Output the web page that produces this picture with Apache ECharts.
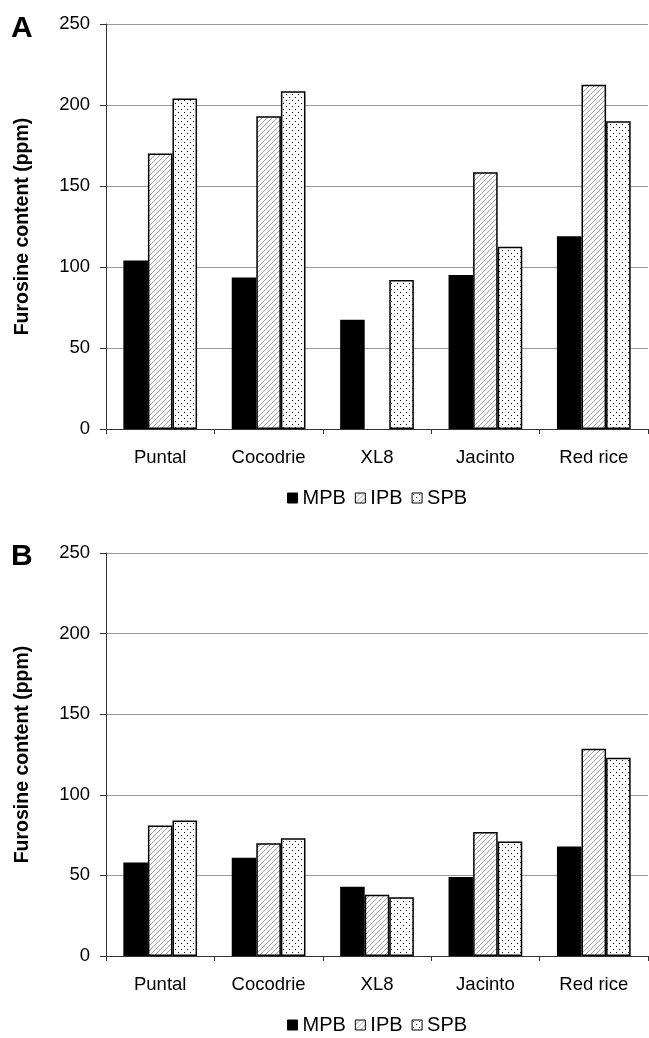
<!DOCTYPE html>
<html>
<head>
<meta charset="utf-8">
<script src="https://cdn.jsdelivr.net/npm/echarts@6/dist/echarts.min.js"></script>
<style>
html,body{margin:0;padding:0;background:#fff;}
#chart{width:649px;height:1038px;}
</style>
</head>
<body>
<div id="chart"></div>
<script>
const categories = ['Puntal', 'Cocodrie', 'XL8', 'Jacinto', 'Red rice'];
const seriesNames = ['MPB', 'IPB', 'SPB'];
const yMin = 0, yMax = 250, yStep = 50;
const yTitle = 'Furosine content (ppm)';
const panelLabels = ['A', 'B'];

// Panel A
const mpbA = [104, 93.5, 67.5, 95, 119];
const ipbA = [170, 193, null, 158.5, 212.5];
const spbA = [204, 208.5, 92, 112.5, 190];
// Panel B
const mpbB = [58, 61, 43, 49, 68];
const ipbB = [81, 70, 38, 77, 128.5];
const spbB = [84, 73, 36.5, 71, 123];

function hatchCanvas() {
  const s = 5;
  const c = document.createElement('canvas');
  c.width = s; c.height = s;
  const g = c.getContext('2d');
  g.fillStyle = '#fff'; g.fillRect(0, 0, s, s);
  g.strokeStyle = '#8a8a8a'; g.lineWidth = 0.8;
  g.beginPath();
  g.moveTo(0, s); g.lineTo(s, 0);
  g.moveTo(-1, 1); g.lineTo(1, -1);
  g.moveTo(s - 1, s + 1); g.lineTo(s + 1, s - 1);
  g.stroke();
  return c;
}
function dotCanvas() {
  const s = 6;
  const c = document.createElement('canvas');
  c.width = s; c.height = s;
  const g = c.getContext('2d');
  g.fillStyle = '#fff'; g.fillRect(0, 0, s, s);
  g.fillStyle = '#000';
  g.fillRect(1, 1, 1, 1);
  g.fillRect(4, 4, 1, 1);
  return c;
}
const fills = ['#000',
  { image: hatchCanvas(), repeat: 'repeat' },
  { image: dotCanvas(), repeat: 'repeat' }];

const FONT = '"Liberation Sans", Arial, sans-serif';
const panels = [
  { top: 24, height: 405, data: [mpbA, ipbA, spbA], legendTop: 488, labelTop: 14 },
  { top: 553, height: 403, data: [mpbB, ipbB, spbB], legendTop: 1015, labelTop: 542 }
];

const grid = [], xAxis = [], yAxis = [], series = [], legend = [], graphic = [];
panels.forEach((p, i) => {
  grid.push({ left: 106, right: 1, top: p.top, height: p.height, containLabel: false });
  xAxis.push({
    type: 'category', gridIndex: i, data: categories,
    axisLine: { lineStyle: { color: '#333', width: 1 } },
    axisTick: { show: true, length: 5, lineStyle: { color: '#333' } },
    axisLabel: { color: '#000', fontSize: 18.5, fontFamily: FONT, margin: 19 },
    splitLine: { show: false }
  });
  yAxis.push({
    type: 'value', gridIndex: i, min: yMin, max: yMax, interval: yStep,
    name: yTitle, nameLocation: 'middle', nameGap: 73,
    nameTextStyle: { color: '#000', fontSize: 19.5, fontWeight: 'bold', fontFamily: FONT },
    axisLine: { show: true, lineStyle: { color: '#333', width: 1 } },
    axisTick: { show: true, length: 6, lineStyle: { color: '#333' } },
    axisLabel: { color: '#000', fontSize: 18.5, fontFamily: FONT, margin: 16 },
    splitLine: { show: true, lineStyle: { color: '#999', width: 1 } }
  });
  seriesNames.forEach((name, k) => {
    series.push({
      name: name, type: 'bar', xAxisIndex: i, yAxisIndex: i,
      data: p.data[k],
      barGap: '0%', barCategoryGap: '32%',
      itemStyle: { color: fills[k], borderColor: '#000', borderWidth: k === 0 ? 0 : 1.5 }
    });
  });
  legend.push({
    data: seriesNames, top: p.legendTop, left: 287, padding: 0,
    icon: 'rect', itemWidth: 10, itemHeight: 10, itemGap: 9,
    textStyle: { color: '#000', fontSize: 20, fontFamily: FONT },
    itemStyle: { borderColor: '#000', borderWidth: 1 },
    selectedMode: false
  });
  graphic.push({
    type: 'text', left: 11, top: p.labelTop,
    style: { text: panelLabels[i], fill: '#000', font: 'bold 30px ' + FONT }
  });
});

const chart = echarts.init(document.getElementById('chart'), null, { renderer: 'canvas' });
chart.setOption({
  animation: false,
  backgroundColor: '#fff',
  grid, xAxis, yAxis, series, legend, graphic
});
</script>
</body>
</html>
